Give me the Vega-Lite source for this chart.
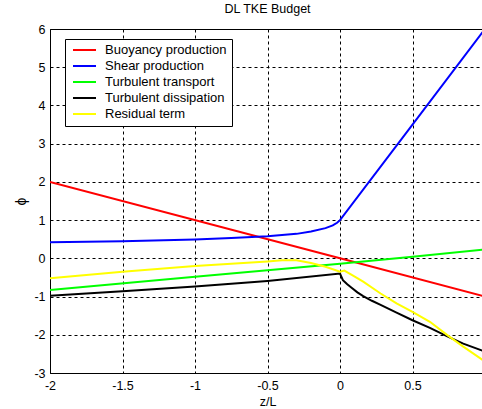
{
  "$schema": "https://vega.github.io/schema/vega-lite/v6.json",
  "autosize": "none",
  "padding": {"left": 50, "top": 29, "right": 0, "bottom": 36},
  "width": 435,
  "height": 344,
  "title": {"text": "DL TKE Budget", "fontSize": 12.5, "fontWeight": "normal", "font": "Liberation Sans", "color": "black", "offset": 8, "anchor": "middle"},
  "config": {
    "font": "Liberation Sans",
    "view": {"stroke": "black", "strokeWidth": 1},
    "axis": {
      "domain": false,
      "ticks": false,
      "grid": true,
      "gridColor": "black",
      "gridDash": [3, 3],
      "gridWidth": 1,
      "gridOpacity": 1,
      "labelFont": "Liberation Sans",
      "labelFontSize": 12.5,
      "labelColor": "black",
      "titleFont": "Liberation Sans",
      "titleFontSize": 12.5,
      "titleFontWeight": "normal",
      "titleColor": "black"
    }
  },
  "data": {
    "values": [
      {"series": "Buoyancy production", "z": -2, "phi": 2},
      {"series": "Buoyancy production", "z": 0, "phi": 0},
      {"series": "Buoyancy production", "z": 1, "phi": -1},

      {"series": "Shear production", "z": -2, "phi": 0.42},
      {"series": "Shear production", "z": -1.5, "phi": 0.45},
      {"series": "Shear production", "z": -1, "phi": 0.49},
      {"series": "Shear production", "z": -0.75, "phi": 0.53},
      {"series": "Shear production", "z": -0.5, "phi": 0.58},
      {"series": "Shear production", "z": -0.3, "phi": 0.64},
      {"series": "Shear production", "z": -0.2, "phi": 0.7},
      {"series": "Shear production", "z": -0.1, "phi": 0.79},
      {"series": "Shear production", "z": -0.05, "phi": 0.86},
      {"series": "Shear production", "z": -0.02, "phi": 0.93},
      {"series": "Shear production", "z": 0, "phi": 1.0},
      {"series": "Shear production", "z": 0.5, "phi": 3.5},
      {"series": "Shear production", "z": 1, "phi": 6.0},

      {"series": "Turbulent transport", "z": -2, "phi": -0.83},
      {"series": "Turbulent transport", "z": -1, "phi": -0.48},
      {"series": "Turbulent transport", "z": 0, "phi": -0.14},
      {"series": "Turbulent transport", "z": 0.5, "phi": 0.04},
      {"series": "Turbulent transport", "z": 1, "phi": 0.23},

      {"series": "Turbulent dissipation", "z": -2, "phi": -0.98},
      {"series": "Turbulent dissipation", "z": -1.5, "phi": -0.86},
      {"series": "Turbulent dissipation", "z": -1, "phi": -0.74},
      {"series": "Turbulent dissipation", "z": -0.5, "phi": -0.59},
      {"series": "Turbulent dissipation", "z": 0, "phi": -0.4},
      {"series": "Turbulent dissipation", "z": 0.02, "phi": -0.57},
      {"series": "Turbulent dissipation", "z": 0.05, "phi": -0.68},
      {"series": "Turbulent dissipation", "z": 0.08, "phi": -0.77},
      {"series": "Turbulent dissipation", "z": 0.12, "phi": -0.89},
      {"series": "Turbulent dissipation", "z": 0.16, "phi": -0.99},
      {"series": "Turbulent dissipation", "z": 0.22, "phi": -1.11},
      {"series": "Turbulent dissipation", "z": 0.28, "phi": -1.22},
      {"series": "Turbulent dissipation", "z": 0.39, "phi": -1.42},
      {"series": "Turbulent dissipation", "z": 0.5, "phi": -1.62},
      {"series": "Turbulent dissipation", "z": 0.62, "phi": -1.82},
      {"series": "Turbulent dissipation", "z": 0.74, "phi": -2.04},
      {"series": "Turbulent dissipation", "z": 0.85, "phi": -2.23},
      {"series": "Turbulent dissipation", "z": 1, "phi": -2.44},

      {"series": "Residual term", "z": -2, "phi": -0.52},
      {"series": "Residual term", "z": -1.5, "phi": -0.35},
      {"series": "Residual term", "z": -1, "phi": -0.2},
      {"series": "Residual term", "z": -0.5, "phi": -0.08},
      {"series": "Residual term", "z": -0.4, "phi": -0.05},
      {"series": "Residual term", "z": -0.3, "phi": -0.05},
      {"series": "Residual term", "z": -0.2, "phi": -0.12},
      {"series": "Residual term", "z": -0.1, "phi": -0.22},
      {"series": "Residual term", "z": 0, "phi": -0.35},
      {"series": "Residual term", "z": 0.03, "phi": -0.32},
      {"series": "Residual term", "z": 0.09, "phi": -0.45},
      {"series": "Residual term", "z": 0.16, "phi": -0.61},
      {"series": "Residual term", "z": 0.28, "phi": -0.92},
      {"series": "Residual term", "z": 0.39, "phi": -1.18},
      {"series": "Residual term", "z": 0.5, "phi": -1.4},
      {"series": "Residual term", "z": 0.62, "phi": -1.66},
      {"series": "Residual term", "z": 0.74, "phi": -2.01},
      {"series": "Residual term", "z": 0.85, "phi": -2.31},
      {"series": "Residual term", "z": 1, "phi": -2.7}
    ]
  },
  "mark": {"type": "line", "strokeWidth": 2, "clip": true},
  "encoding": {
    "x": {
      "field": "z",
      "type": "quantitative",
      "title": "z/L",
      "scale": {"domain": [-2, 1], "nice": false, "zero": false},
      "axis": {"values": [-2, -1.5, -1, -0.5, 0, 0.5], "labelExpr": "datum.value + ''", "labelPadding": 6, "titlePadding": 4, "labelFlush": false}
    },
    "y": {
      "field": "phi",
      "type": "quantitative",
      "title": "ϕ",
      "scale": {"domain": [-3, 6], "nice": false, "zero": false},
      "axis": {"values": [-3, -2, -1, 0, 1, 2, 3, 4, 5, 6], "labelExpr": "datum.value + ''", "labelPadding": 5, "titleX": -29, "titleY": 172, "titleAngle": -90, "titleAlign": "center", "titleBaseline": "middle", "titleFontSize": 14, "labelFlush": false}
    },
    "color": {
      "field": "series",
      "type": "nominal",
      "sort": null,
      "scale": {
        "domain": ["Buoyancy production", "Shear production", "Turbulent transport", "Turbulent dissipation", "Residual term"],
        "range": ["#ff0000", "#0000ff", "#00ff00", "#000000", "#ffff00"]
      },
      "legend": {
        "title": null,
        "orient": "none",
        "legendX": 15,
        "legendY": 10,
        "padding": 5,
        "strokeColor": "black",
        "fillColor": "white",
        "symbolType": "stroke",
        "symbolSize": 529,
        "symbolStrokeWidth": 2,
        "symbolOffset": 2,
        "clipHeight": 12,
        "rowPadding": 3,
        "labelOffset": 8,
        "labelFont": "Liberation Sans",
        "labelFontSize": 13,
        "labelColor": "black",
        "labelLimit": 300
      }
    }
  }
}
